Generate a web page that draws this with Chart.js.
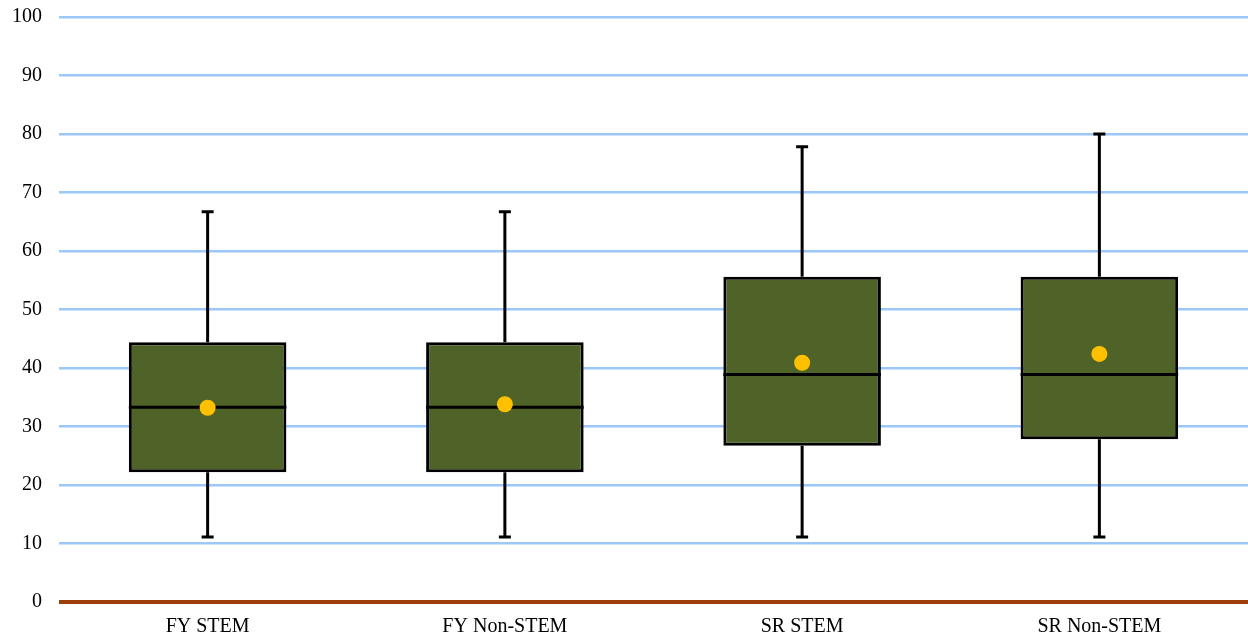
<!DOCTYPE html>
<html>
<head>
<meta charset="utf-8">
<script src="https://cdn.jsdelivr.net/npm/chart.js@4"></script>
<style>
  html, body { margin: 0; padding: 0; background: #fff; }
  #wrap { width: 1248px; height: 634px; }
</style>
</head>
<body>
<div id="wrap"><canvas id="boxChart" width="1248" height="634"></canvas></div>
<script>
// box plot values
const categories = ['FY STEM', 'FY Non-STEM', 'SR STEM', 'SR Non-STEM'];
const minValues = [11.1, 11.1, 11.1, 11.1];
const q1Values = [22.2, 22.2, 26.7, 27.8];
const medianValues = [33.3, 33.3, 38.9, 38.9];
const q3Values = [44.4, 44.4, 55.6, 55.6];
const maxValues = [66.7, 66.7, 77.8, 80.0];
const meanValues = [33.2, 33.8, 40.9, 42.4];
const yTicks = [0, 10, 20, 30, 40, 50, 60, 70, 80, 90, 100];

const boxData = categories.map((c, i) => [q1Values[i], q3Values[i]]);

// whiskers + median line drawn on top of the boxes
const whiskerPlugin = {
    id: 'whiskers',
    afterDatasetDraw(chart, args) {
        if (args.index !== 1) return;
        const ctx = chart.ctx;
        const y = chart.scales.y;
        const bars = args.meta.data;
        ctx.save();
        ctx.strokeStyle = '#000';
        ctx.lineWidth = 3;
        bars.forEach((bar, i) => {
            const cx = bar.x;
            const half = bar.width / 2;
            const capHalf = 6;
            const yMin = y.getPixelForValue(minValues[i]);
            const yMax = y.getPixelForValue(maxValues[i]);
            const yQ1 = y.getPixelForValue(q1Values[i]);
            const yQ3 = y.getPixelForValue(q3Values[i]);
            const yMed = y.getPixelForValue(medianValues[i]);
            ctx.beginPath();
            // upper whisker
            ctx.moveTo(cx, yQ3);
            ctx.lineTo(cx, yMax);
            ctx.moveTo(cx - capHalf, yMax);
            ctx.lineTo(cx + capHalf, yMax);
            // lower whisker
            ctx.moveTo(cx, yQ1);
            ctx.lineTo(cx, yMin);
            ctx.moveTo(cx - capHalf, yMin);
            ctx.lineTo(cx + capHalf, yMin);
            // median
            ctx.moveTo(cx - half, yMed);
            ctx.lineTo(cx + half, yMed);
            ctx.stroke();
        });
        ctx.restore();
    }
};

const ctx = document.getElementById('boxChart').getContext('2d');
new Chart(ctx, {
    data: {
        labels: categories,
        datasets: [
            {
                type: 'line',
                label: 'Mean',
                data: meanValues,
                showLine: false,
                pointRadius: 8,
                pointHoverRadius: 8,
                pointBackgroundColor: '#FFC000',
                pointBorderWidth: 0,
                order: 1
            },
            {
                type: 'bar',
                label: 'Box',
                data: boxData,
                backgroundColor: '#4F6228',
                borderColor: '#000',
                borderWidth: 3,
                borderSkipped: false,
                categoryPercentage: 1,
                barPercentage: 0.53,
                order: 2
            }
        ]
    },
    options: {
        responsive: false,
        animation: false,
        events: [],
        layout: { autoPadding: false, padding: { top: 17, right: 0, bottom: 0, left: 0 } },
        plugins: {
            legend: { display: false },
            tooltip: { enabled: false },
            title: { display: false }
        },
        scales: {
            x: {
                grid: { display: false, drawTicks: false },
                border: { display: false },
                afterFit: (axis) => {
                    axis.height = 32;
                    axis.paddingLeft = 0;
                    axis.paddingRight = 0;
                },
                ticks: {
                    color: '#000',
                    padding: 13,
                    font: { family: 'Liberation Serif', size: 20 }
                }
            },
            y: {
                min: 0,
                max: 100,
                afterBuildTicks: (axis) => { axis.ticks = yTicks.map(v => ({ value: v })); },
                afterFit: (axis) => {
                    axis.width = 59;
                    axis.paddingTop = 0;
                    axis.paddingBottom = 0;
                },
                grid: {
                    drawTicks: false,
                    color: (c) => c.tick && c.tick.value === 0 ? '#9C3D0C' : '#9BC8F8',
                    lineWidth: (c) => c.tick && c.tick.value === 0 ? 4 : 2.5
                },
                border: { display: false },
                ticks: {
                    color: '#000',
                    padding: 17,
                    font: { family: 'Liberation Serif', size: 20 }
                }
            }
        }
    },
    plugins: [whiskerPlugin]
});
</script>
</body>
</html>
